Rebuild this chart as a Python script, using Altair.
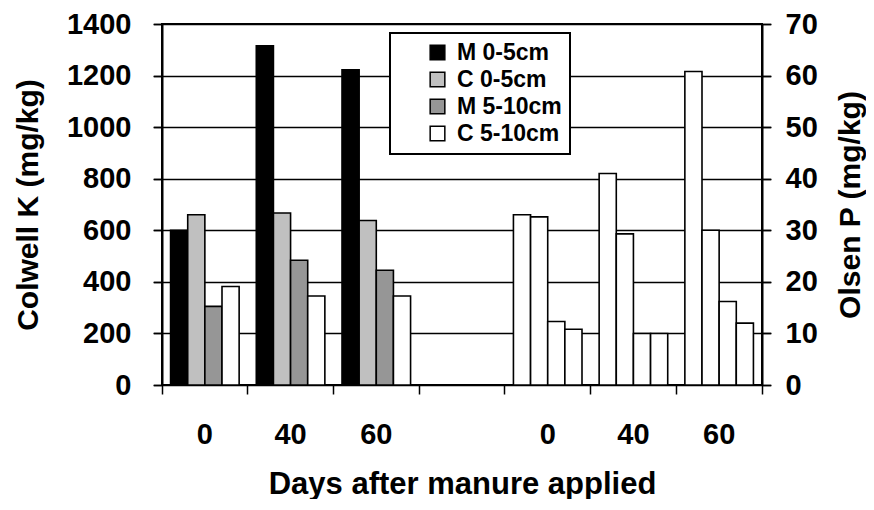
import altair as alt
import pandas as pd

# ---- data ----
series = ["M 0-5cm", "C 0-5cm", "M 5-10cm", "C 5-10cm"]
series_colors = ["#000000", "#c0c0c0", "#969696", "#ffffff"]
days = ["0", "40", "60"]

# Colwell K (mg/kg), left axis, one list per series (days 0, 40, 60)
k_m_0_5 = [600, 1315, 1222]
k_c_0_5 = [660, 667, 638]
k_m_5_10 = [305, 484, 445]
k_c_5_10 = [382, 345, 345]

# Olsen P (mg/kg), right axis, one list per series (days 0, 40, 60)
p_m_0_5 = [33.0, 41.0, 60.8]
p_c_0_5 = [32.6, 29.3, 30.0]
p_m_5_10 = [12.3, 10.0, 16.2]
p_c_5_10 = [10.8, 10.0, 12.0]

# category groups along x: K group, an empty gap, P group
k_cats = ["K" + d for d in days]
p_cats = ["P" + d for d in days]
all_cats = k_cats + ["gap"] + p_cats
tick_labels = days + [""] + days + [""]

# slot scale: one boundary slot before each category, then one slot per series
slot_domain = []
for i, c in enumerate(all_cats):
    slot_domain.append(str(i))
    slot_domain += [c + "|" + s for s in series]
slot_domain.append(str(len(all_cats)))
boundary_slots = [str(i) for i in range(len(all_cats) + 1)]

k_rows = []
for s, vals in zip(series, [k_m_0_5, k_c_0_5, k_m_5_10, k_c_5_10]):
    for c, v in zip(k_cats, vals):
        k_rows.append({"slot": c + "|" + s, "series": s, "value": v})
p_rows = []
for s, vals in zip(series, [p_m_0_5, p_c_0_5, p_m_5_10, p_c_5_10]):
    for c, v in zip(p_cats, vals):
        p_rows.append({"slot": c + "|" + s, "series": s, "value": v})
k_df = pd.DataFrame(k_rows)
p_df = pd.DataFrame(p_rows)

FONT = "Liberation Sans"
W = 600
H = 361
n_slots = len(slot_domain)
half_slot = W / (n_slots - 1) / 2
cat_width = W / len(all_cats)

label_array = "[" + ",".join("'" + t + "'" for t in tick_labels) + "]"

x_enc = alt.X(
    "slot:N",
    scale=alt.Scale(
        domain=slot_domain,
        range=[-half_slot, W + half_slot],
        paddingInner=0,
        paddingOuter=0,
    ),
    axis=alt.Axis(
        title="Days after manure applied",
        values=boundary_slots,
        labelExpr=label_array + "[toNumber(datum.value)]",
        labelAngle=0,
        labelOffset=cat_width / 2,
        tickSize=9,
        tickWidth=1.5,
        tickColor="black",
        domain=False,
        labelPadding=26,
        labelFontSize=29,
        titleFontSize=31,
        titlePadding=20,
        grid=False,
    ),
)

k_layer = alt.Chart(k_df).mark_bar(stroke="black", strokeWidth=1.6).encode(
    x=x_enc,
    y=alt.Y(
        "value:Q",
        stack=None,
        scale=alt.Scale(domain=[0, 1400], nice=False),
        axis=alt.Axis(
            title="Colwell K (mg/kg)",
            orient="left",
            values=list(range(0, 1401, 200)),
            format="d",
            grid=True,
            gridColor="black",
            gridWidth=1.6,
            tickSize=9,
            tickWidth=1.5,
            tickColor="black",
            domainColor="black",
            domainWidth=2,
            labelPadding=22,
            labelFontSize=29,
            titleFontSize=30,
            titlePadding=23,
        ),
    ),
    color=alt.Color(
        "series:N",
        scale=alt.Scale(domain=series, range=series_colors),
        title=None,
        legend=alt.Legend(
            orient="none",
            legendX=228,
            legendY=9,
            direction="vertical",
            fillColor="white",
            strokeColor="black",
            padding=8,
            symbolType="square",
            symbolSize=215,
            symbolStrokeColor="black",
            symbolStrokeWidth=1.5,
            symbolOffset=28,
            labelOffset=8,
            labelFontSize=23,
            labelFont=FONT,
            labelFontWeight="bold",
            labelColor="black",
            labelExpr="datum.label + '\u00a0\u00a0\u00a0\u00a0\u00a0\u00a0\u00a0\u00a0\u00a0'",
        ),
    ),
)

p_layer = alt.Chart(p_df).mark_bar(stroke="black", strokeWidth=1.6, fill="white").encode(
    x=x_enc,
    y=alt.Y(
        "value:Q",
        stack=None,
        scale=alt.Scale(domain=[0, 70], nice=False),
        axis=alt.Axis(
            title="Olsen P (mg/kg)",
            orient="right",
            values=list(range(0, 71, 10)),
            format="d",
            grid=False,
            tickSize=9,
            tickWidth=1.5,
            tickColor="black",
            domainColor="black",
            domainWidth=2,
            labelPadding=14,
            labelFontSize=29,
            titleFontSize=30,
            titlePadding=18,
            titleAngle=270,
            titleBaseline="top",
        ),
    ),
)

chart = (
    alt.layer(k_layer, p_layer)
    .resolve_scale(y="independent")
    .properties(
        width=W,
        height=H,
        padding={"left": 5, "top": 2, "right": 0, "bottom": 0},
    )
    .configure_view(stroke="black", strokeWidth=2)
    .configure_legend(strokeWidth=2, rowPadding=3)
    .configure_axis(
        labelFont=FONT,
        titleFont=FONT,
        labelFontWeight="bold",
        titleFontWeight="bold",
        labelColor="black",
        titleColor="black",
    )
)

chart.save("out.html", embed_options={"renderer": "svg", "actions": False})
